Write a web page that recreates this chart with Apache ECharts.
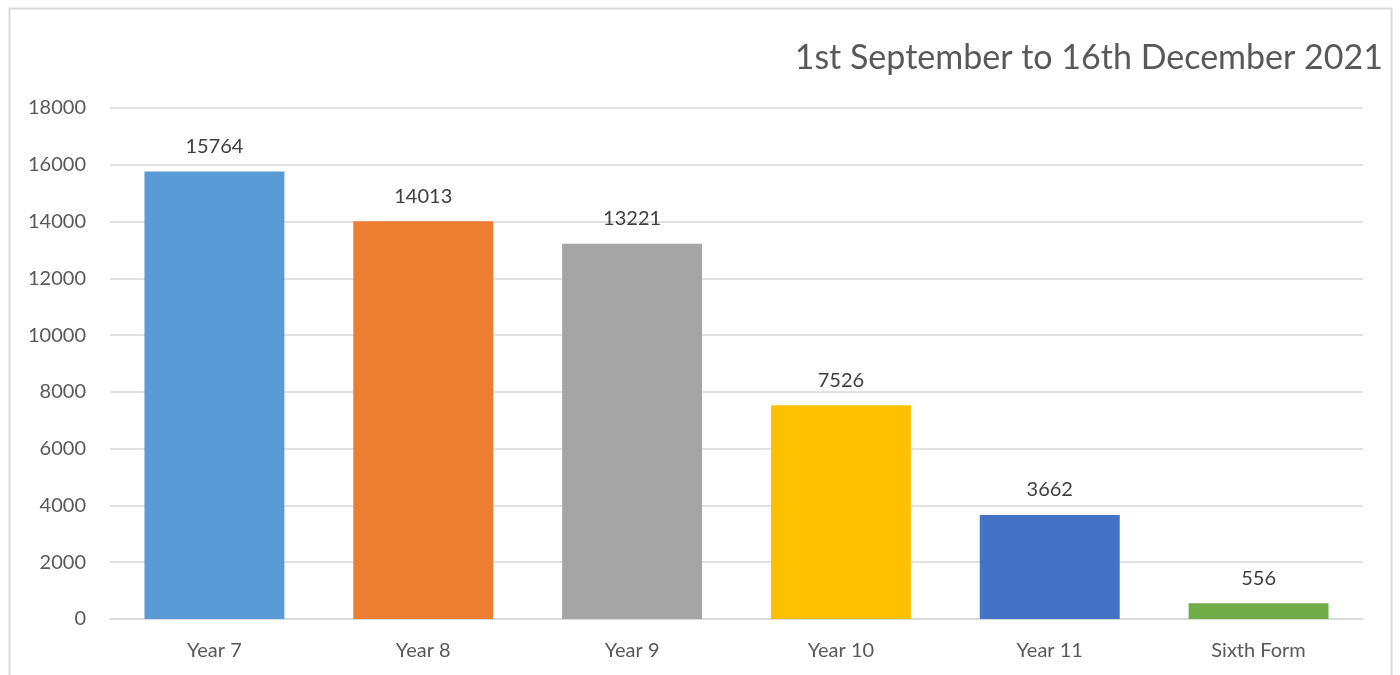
<!DOCTYPE html>
<html>
<head>
<meta charset="utf-8">
<script src="https://cdn.jsdelivr.net/npm/echarts@6/dist/echarts.min.js"></script>
<style>
  html, body { margin: 0; padding: 0; background: #fff; }
  #chart { width: 1400px; height: 675px; }
</style>
</head>
<body>
<div id="chart"></div>
<script>
const categories = ['Year 7', 'Year 8', 'Year 9', 'Year 10', 'Year 11', 'Sixth Form'];
const values = [15764, 14013, 13221, 7526, 3662, 556];
const barColors = ['#5b9bd5', '#ed7d31', '#a5a5a5', '#ffc000', '#4472c4', '#70ad47'];
const titleText = '1st September to 16th December 2021';

const chart = echarts.init(document.getElementById('chart'));
chart.setOption({
  animation: false,
  textStyle: { fontFamily: 'Lato' },
  title: {
    text: titleText,
    right: 12,
    top: 36,
    textStyle: { fontSize: 34, fontWeight: 'normal', color: '#595959', fontFamily: 'Lato' }
  },
  graphic: [{
    type: 'rect',
    shape: { x: 9.5, y: 8.5, width: 1382, height: 700 },
    style: { fill: 'none', stroke: '#d9d9d9', lineWidth: 2 },
    silent: true
  }],
  grid: { left: 110, right: 37, top: 108, bottom: 56 },
  xAxis: {
    type: 'category',
    data: categories,
    axisTick: { show: false },
    axisLine: { lineStyle: { color: '#d9d9d9', width: 1.5 } },
    axisLabel: { color: '#595959', fontSize: 20, margin: 22 }
  },
  yAxis: {
    type: 'value',
    min: 0,
    max: 18000,
    interval: 2000,
    axisLine: { show: false },
    axisTick: { show: false },
    splitLine: { lineStyle: { color: '#d9d9d9', width: 1.5 } },
    axisLabel: { color: '#595959', fontSize: 20, margin: 24, formatter: v => String(v) }
  },
  series: [{
    type: 'bar',
    barWidth: '67%',
    data: values.map((v, i) => ({ value: v, itemStyle: { color: barColors[i] } })),
    label: {
      show: true,
      position: 'top',
      distance: 15,
      color: '#404040',
      fontSize: 20
    }
  }]
});
</script>
</body>
</html>
